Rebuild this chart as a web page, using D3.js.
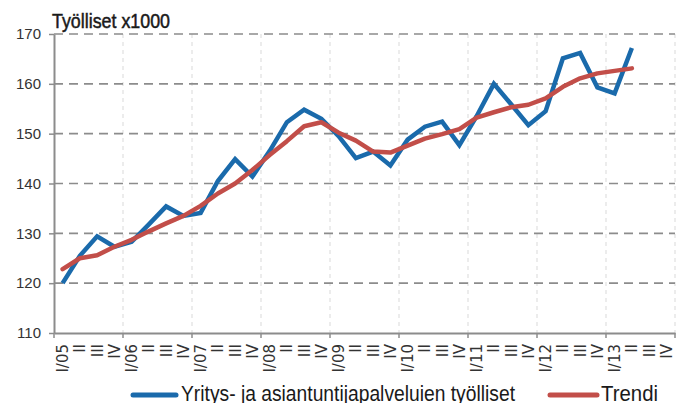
<!DOCTYPE html>
<html>
<head>
<meta charset="utf-8">
<script src="https://cdn.jsdelivr.net/npm/d3@7"></script>
<style>
  body { margin: 0; background: #fff; }
  svg { display: block; }
</style>
</head>
<body>
<script>
// quarters I/05 .. IV/13
var years = ["05","06","07","08","09","10","11","12","13"];
var quarterNames = ["I","II","III","IV"];
var categories = [];
years.forEach(function(y){
	quarterNames.forEach(function(q){ categories.push(q + "/" + y); });
});

// employed, thousands (I/05 .. II/13)
var employed = [120, 125.5, 129.4, 127.3, 128.3, 131.8, 135.4, 133.5,
	134.1, 140.5, 144.9, 141.4, 146.5, 152.3, 154.8, 153,
	149.5, 145.1, 146.4, 143.6, 148.8, 151.4, 152.4, 147.7,
	153.5, 160, 155.9, 151.7, 154.5, 165.1, 166.2, 159.3,
	158.1, 167.2];
var trend = [122.8, 125, 125.6, 127.3, 128.7, 130.4, 132, 133.5,
	135.5, 138, 140, 142.7, 145.7, 148.5, 151.5, 152.3,
	150.2, 148.6, 146.4, 146.2, 147.6, 149, 149.9, 150.9,
	153.2, 154.3, 155.3, 155.8, 157.1, 159.4, 161.1, 162.1,
	162.6, 163.1];
var yTicks = [110, 120, 130, 140, 150, 160, 170];
var seriesNames = ["Yritys- ja asiantuntijapalveluien työlliset", "Trendi"];
var colors = ["#1a6aab", "#c24e49"];

var W = 681, H = 403;
var pLeft = 54, pRight = 675, pTop = 34, pBottom = 333;

var svg = d3.select("body").append("svg")
	.attr("width", W).attr("height", H);

var x = d3.scaleBand().domain(categories).range([pLeft, pRight]).padding(0);
var y = d3.scaleLinear().domain([110, 170]).range([pBottom, pTop]);

function qlabel(c){
	var parts = c.split("/");
	return parts[0] == "I" ? c : parts[0];
}

// vertical light grid at year starts
var yearStarts = categories.filter(function(c){ return c.indexOf("I/") == 0; });
svg.append("g").selectAll("line")
	.data(yearStarts.slice(1).concat(["end"]))
	.enter().append("line")
	.attr("x1", function(d){ return d == "end" ? pRight : x(d); })
	.attr("x2", function(d){ return d == "end" ? pRight : x(d); })
	.attr("y1", pTop).attr("y2", pBottom)
	.attr("stroke", "#d9d9d9").attr("stroke-width", 1)
	.attr("stroke-dasharray", "4,4");

// horizontal dashed grid
svg.append("g").selectAll("line")
	.data(yTicks.filter(function(t){ return t > 110; }))
	.enter().append("line")
	.attr("x1", pLeft).attr("x2", pRight)
	.attr("y1", function(d){ return y(d); })
	.attr("y2", function(d){ return y(d); })
	.attr("stroke", "#8c8c8c").attr("stroke-width", 1.6)
	.attr("stroke-dasharray", "9,6");

// y axis
var yAxis = svg.append("g")
	.attr("transform", "translate(" + pLeft + ",0)")
	.call(d3.axisLeft(y).tickValues(yTicks).tickSize(5).tickSizeOuter(0).tickPadding(8));
yAxis.select(".domain").attr("stroke", "#8c8c8c").attr("stroke-width", 2);
yAxis.selectAll(".tick line").attr("stroke", "#8c8c8c").attr("stroke-width", 1.5);
yAxis.selectAll("text")
	.style("font-family", "'Liberation Sans', Arial, sans-serif")
	.style("font-size", "15px").attr("fill", "#333");

// x axis
var xAxis = svg.append("g")
	.attr("transform", "translate(0," + pBottom + ")")
	.call(d3.axisBottom(x).tickSize(0).tickSizeOuter(0).tickFormat(qlabel));
xAxis.select(".domain").attr("stroke", "#8c8c8c").attr("stroke-width", 2);
xAxis.selectAll("text")
	.attr("transform", "rotate(-90)")
	.attr("text-anchor", "end")
	.attr("x", -11).attr("y", 0).attr("dy", "0.36em")
	.style("font-family", "'DejaVu Sans', sans-serif")
	.style("font-size", "15px").attr("fill", "#333");

// year boundary ticks
svg.append("g").selectAll("line")
	.data(yearStarts.concat(["end"]))
	.enter().append("line")
	.attr("x1", function(d){ return d == "end" ? pRight : x(d); })
	.attr("x2", function(d){ return d == "end" ? pRight : x(d); })
	.attr("y1", pBottom).attr("y2", pBottom + 5)
	.attr("stroke", "#8c8c8c").attr("stroke-width", 1.5);

// lines
var line = d3.line()
	.x(function(d, i){ return x(categories[i]) + x.bandwidth() / 2; })
	.y(function(d){ return y(d); });

svg.append("path").datum(employed)
	.attr("d", line).attr("fill", "none")
	.attr("stroke", colors[0]).attr("stroke-width", 4.5)
	.attr("stroke-linejoin", "miter");
svg.append("path").datum(trend)
	.attr("d", line).attr("fill", "none")
	.attr("stroke", colors[1]).attr("stroke-width", 4.5)
	.attr("stroke-linejoin", "round").attr("stroke-linecap", "round");

// title
svg.append("text")
	.attr("x", 52).attr("y", 28)
	.attr("textLength", 118).attr("lengthAdjust", "spacingAndGlyphs")
	.style("font-family", "'Liberation Sans Narrow', 'Liberation Sans', sans-serif")
	.style("font-size", "21px")
	.attr("fill", "#1a1a1a").attr("stroke", "#1a1a1a").attr("stroke-width", 0.5)
	.text("Työlliset x1000");

// legend
var legend = [
	{ x1: 133, x2: 176, tx: 181, tl: 334 },
	{ x1: 550, x2: 597, tx: 601, tl: 57 }
];
legend.forEach(function(l, i){
	svg.append("line")
		.attr("x1", l.x1).attr("x2", l.x2)
		.attr("y1", 395).attr("y2", 395)
		.attr("stroke", colors[i]).attr("stroke-width", 5)
		.attr("stroke-linecap", "round");
	svg.append("text")
		.attr("x", l.tx).attr("y", 401)
		.attr("textLength", l.tl).attr("lengthAdjust", "spacingAndGlyphs")
		.style("font-family", "'Liberation Sans Narrow', 'Liberation Sans', sans-serif")
		.style("font-size", "22px").attr("fill", "#1a1a1a")
		.text(seriesNames[i]);
});
</script>
</body>
</html>
